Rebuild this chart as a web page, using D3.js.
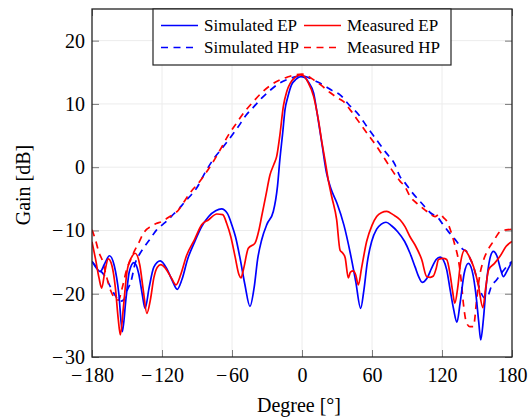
<!DOCTYPE html>
<html>
<head>
<meta charset="utf-8">
<script src="https://cdn.jsdelivr.net/npm/d3@7"></script>
<style>
  html, body { margin: 0; padding: 0; background: #fff; }
  svg { display: block; }
  text { font-family: "Liberation Serif", "Times New Roman", serif; fill: #000; }
</style>
</head>
<body>
<svg id="chart" width="529" height="418"></svg>
<script>
// ---------- data ----------
const xTicks = [-180, -120, -60, 0, 60, 120, 180];
const yTicks = [-30, -20, -10, 0, 10, 20];

const simEPAngle = [-180,-176,-173,-169,-165,-161,-157,-154,-151,-148,-144,-140,-137,-134.5,-131,-127,-121.5,-116,-111,-107,-103,-98,-92,-86,-80,-74,-69,-64,-60,-57,-53,-49,-44.6,-41,-38,-34.6,-30,-24.6,-21,-19,-16.5,-14.6,-12,-9,-5,-1,2,6,10,13,17,21,25,30,36,41.4,46,50.3,53,56,59.7,64,68,72,77,82,88,92.6,97,100,103,107,111,115,118.5,121,124,127,130,132.8,135.5,139,142.6,146,149,151.5,153.2,155.5,158,161,164,167,170,172.6,176,180];
const simEPGain  = [-14.9,-16.0,-16.5,-15.2,-14.0,-15.5,-20,-26.0,-21,-16.5,-15.1,-16.8,-20,-22.3,-19,-15.8,-14.8,-16,-18,-19.3,-17.8,-14.5,-11.8,-9.4,-7.8,-6.9,-6.6,-7.3,-9.2,-11,-14.5,-18.5,-22.0,-19,-14.5,-11.5,-9,-7.0,-3,1.15,5.5,9.05,11.2,13.0,13.9,14.3,14.2,13.3,11.7,8.5,3.8,-0.9,-3.5,-5.7,-9.2,-13.6,-18,-22.3,-19.5,-15,-11.75,-9.8,-9.0,-8.7,-9.3,-10.2,-11.75,-13.6,-15.8,-17.3,-18.2,-17.6,-16,-14.6,-14.2,-14.6,-16.2,-19.4,-22.5,-24.5,-21.5,-16.8,-15.2,-16.5,-20,-24.5,-27.3,-24,-18.5,-14.5,-13.3,-14,-16,-17.3,-16.3,-14.9];

const meaEPAngle = [-180,-177,-174,-171.7,-169,-166,-163,-160,-157.5,-155.7,-153,-150,-146,-143,-139,-136,-133,-130,-127,-124,-121,-117,-112,-108,-104,-99,-92,-86,-80,-73,-68,-64.6,-61,-57.4,-54,-52.3,-50,-46,-40.3,-37,-34.6,-31,-27.4,-24,-21.7,-19,-16,-13,-10,-6,-1.7,1,5,10,14,17,19.7,22.5,25.4,29.7,32.6,35,37,39.7,41.5,44,46,48.3,51,55.4,60,64,68,72.6,78,84,88.3,92.6,96.9,102.6,106.9,110,112.6,115,117,121,124,127,129,131,133.5,136,139.5,143,147,151,155,157.5,160,165,170,175,180];
const meaEPGain  = [-11.8,-14.5,-17.5,-19.1,-16.5,-14.5,-15.5,-19,-24,-26.5,-22,-16.5,-14.2,-13.6,-15.5,-19.5,-23.1,-21,-17.5,-15.8,-15.4,-16,-17.5,-18.6,-17,-14,-11.4,-9.1,-8.3,-7.4,-7.5,-8.85,-11,-14.1,-17,-17.5,-16,-12.8,-12,-10,-7.8,-4.5,-1.2,0.5,1.7,5,9.6,12,13.3,14.2,14.6,14.5,13.5,11.15,7.5,4,1.15,-2,-4.6,-8.3,-13.1,-13.6,-14.3,-17.5,-16.6,-16.4,-17,-18.6,-16,-11.75,-9.2,-7.8,-7.2,-7.0,-7.5,-8.3,-9.4,-11,-12.3,-14.6,-17.3,-17.4,-17.2,-16,-14.6,-14.4,-14.6,-17,-19.5,-21.5,-19,-15,-13.1,-14,-15.7,-18.5,-22.2,-19,-16.2,-15.2,-14,-12.5,-11.75];

const simHPAngle = [-180,-176,-172,-168,-164,-160,-156,-153,-150,-146.5,-143,-140,-136,-130,-124.6,-119,-114.6,-110,-106,-101,-96,-90,-82,-75,-68,-63,-55,-48,-41,-34.6,-27,-20,-12,-5,0,5,12.9,20,26,32.9,40,48.6,56,64,72,79.7,84,88,94,102.6,110,116.9,121,126,132.6,138,141,144,146.9,149.7,152.6,156.9,159.7,162,166.9,172,176,180];
const simHPGain  = [-14.9,-15.8,-16.5,-17.5,-19,-20.3,-21.2,-21,-19.5,-18,-15.2,-14,-12.8,-11.3,-9.9,-9.0,-8.3,-7.4,-6.7,-5.6,-4.6,-3.2,-0.5,1.5,3.1,4.3,6.3,8.2,9.6,10.9,12.2,13.2,13.9,14.3,14.4,14.2,13.5,12.8,12.1,11.4,9.9,8.3,6.3,4.3,2.3,0.4,-1.5,-2.4,-3.9,-5.7,-7.2,-8.05,-9.1,-10.3,-11.75,-13,-13.3,-14.4,-15.7,-17.5,-19.4,-20.7,-20.2,-19,-17.8,-16.5,-15.6,-14.9];

const meaHPAngle = [-180,-177,-174,-171.4,-168,-164,-160,-157.4,-154,-150.3,-146,-144,-140,-137,-133,-130,-125,-120,-115,-110,-106,-103,-98,-94,-90,-82,-77,-70,-63,-56,-49,-42,-35,-28,-20,-13,-6,0,5,10,16,24,30,35.4,42,48.6,56,64,71,78,84,88.3,92.6,99,105,110,114,117,119,121,124,127,131,134,136.5,138.3,141,144,146.9,149.7,152,155.4,159,164,169.7,175,180];
const meaHPGain  = [-9.9,-11.5,-13.5,-14.6,-17,-19.5,-20.8,-21,-19,-16.2,-14.3,-13.4,-12,-10.8,-9.8,-9.4,-8.9,-8.6,-8.0,-7.4,-6.8,-6,-4.6,-3.6,-2.8,-0.8,0.6,2.8,5.1,7.0,8.8,10.3,11.7,12.8,13.7,14.2,14.6,14.7,14.4,13.8,13,11.8,11,10.4,8.9,7.2,5.3,3.3,1.3,-0.7,-2.2,-3.1,-4.6,-5.8,-6.7,-7.4,-7.8,-7.5,-7.4,-7.9,-8.5,-9.8,-12.3,-14.6,-18,-21.5,-24.6,-25.2,-25.2,-21,-17.5,-14.8,-13.2,-11.75,-10.2,-9.9,-9.8];

const seriesNames = ["Simulated EP", "Measured EP", "Simulated HP", "Measured HP"];
const seriesColors = ["#0000ff", "#ff0000", "#0000ff", "#ff0000"];
const seriesDashed = [false, false, true, true];

// ---------- layout ----------
const L = 92, R = 512, T = 9, B = 357;
const svg = d3.select("#chart");
const x = d3.scaleLinear().domain([-180, 180]).range([L, R]);
const y = d3.scaleLinear().domain([-30, 25]).range([B, T]);
const fmt = v => v < 0 ? "\u2212\u200a" + Math.abs(v) : String(v);

// grid
svg.append("g").selectAll("line").data(xTicks.slice(1, -1)).join("line")
  .attr("x1", d => x(d)).attr("x2", d => x(d)).attr("y1", T).attr("y2", B)
  .attr("stroke", "#ececec").attr("stroke-width", 1);
svg.append("g").selectAll("line").data(yTicks.slice(1)).join("line")
  .attr("y1", d => y(d)).attr("y2", d => y(d)).attr("x1", L).attr("x2", R)
  .attr("stroke", "#ececec").attr("stroke-width", 1);

// axes (ticks inside, both sides)
const tickLen = 7;
const gx = svg.append("g").attr("transform", `translate(0,${B})`)
  .call(d3.axisBottom(x).tickValues(xTicks).tickSizeInner(-tickLen).tickSizeOuter(0).tickPadding(11).tickFormat(fmt));
const gxTop = svg.append("g").attr("transform", `translate(0,${T})`)
  .call(d3.axisTop(x).tickValues(xTicks).tickSizeInner(-tickLen).tickSizeOuter(0).tickFormat(""));
const gy = svg.append("g").attr("transform", `translate(${L},0)`)
  .call(d3.axisLeft(y).tickValues(yTicks).tickSizeInner(-tickLen).tickSizeOuter(0).tickPadding(7).tickFormat(fmt));
const gyR = svg.append("g").attr("transform", `translate(${R},0)`)
  .call(d3.axisRight(y).tickValues(yTicks).tickSizeInner(-tickLen).tickSizeOuter(0).tickFormat(""));
[gx, gxTop, gy, gyR].forEach(g => {
  g.select(".domain").remove();
  g.selectAll(".tick line").attr("stroke", "#7a7a7a").attr("stroke-width", 1);
  g.selectAll("text").attr("font-family", "Liberation Serif, serif").attr("font-size", 20).attr("fill", "#000");
});
gx.selectAll("text").attr("dy", "0.71em");

// clip
svg.append("defs").append("clipPath").attr("id", "clip")
  .append("rect").attr("x", L).attr("y", T).attr("width", R - L).attr("height", B - T);

const line = d3.line().x(d => x(d[0])).y(d => y(d[1])).curve(d3.curveMonotoneX);
const dataSets = [
  d3.zip(simEPAngle, simEPGain),
  d3.zip(meaEPAngle, meaEPGain),
  d3.zip(simHPAngle, simHPGain),
  d3.zip(meaHPAngle, meaHPGain)
];
const plotG = svg.append("g").attr("clip-path", "url(#clip)");
[2, 3, 0, 1].forEach(i => {
  plotG.append("path").datum(dataSets[i])
    .attr("d", line).attr("fill", "none")
    .attr("stroke", seriesColors[i]).attr("stroke-width", 1.7)
    .attr("stroke-linejoin", "round")
    .attr("stroke-dasharray", seriesDashed[i] ? "7,5.5" : null);
});

// frame
svg.append("rect").attr("x", L).attr("y", T).attr("width", R - L).attr("height", B - T)
  .attr("fill", "none").attr("stroke", "#222").attr("stroke-width", 1.3);

// axis labels
svg.append("text").attr("x", (L + R) / 2 - 3).attr("y", 412).attr("text-anchor", "middle")
  .attr("font-size", 20).text("Degree [°]");
svg.append("text").attr("transform", `translate(30,${(T + B) / 2 + 2}) rotate(-90)`)
  .attr("text-anchor", "middle").attr("font-size", 20).text("Gain [dB]");

// legend
const lg = svg.append("g");
lg.append("rect").attr("x", 153).attr("y", T).attr("width", 298).attr("height", 56)
  .attr("fill", "#fff").attr("stroke", "#222").attr("stroke-width", 1.2);
const colX = [161, 304];
const rowY = [25.5, 47.5];
seriesNames.forEach((name, i) => {
  const cx = colX[i % 2], cy = rowY[Math.floor(i / 2)];
  lg.append("line").attr("x1", cx).attr("x2", cx + 37).attr("y1", cy).attr("y2", cy)
    .attr("stroke", seriesColors[i]).attr("stroke-width", 1.7)
    .attr("stroke-dasharray", seriesDashed[i] ? "7,5.5" : null);
  lg.append("text").attr("x", cx + 43).attr("y", cy + 5.5).attr("font-size", 17).text(name);
});
</script>
</body>
</html>
